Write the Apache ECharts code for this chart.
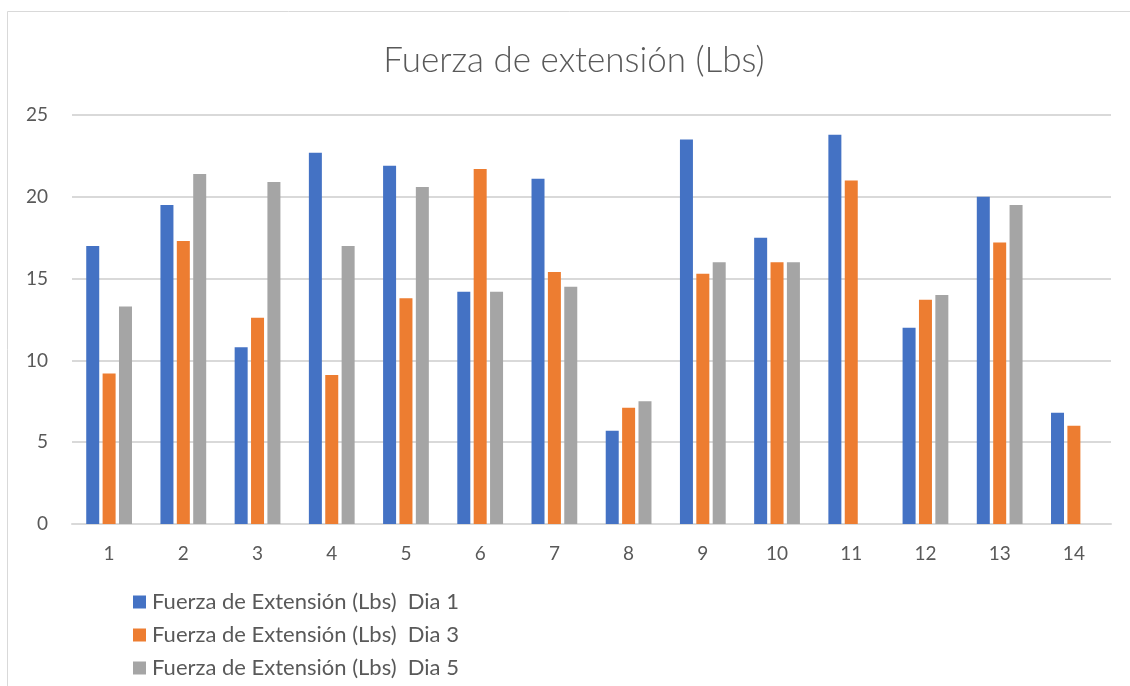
<!DOCTYPE html>
<html>
<head>
<meta charset="utf-8">
<script src="https://cdn.jsdelivr.net/npm/echarts@6/dist/echarts.min.js"></script>
<style>
  html, body { margin: 0; padding: 0; background: #ffffff; }
  #chart { width: 1130px; height: 686px; }
</style>
</head>
<body>
<div id="chart"></div>
<script>
// Sample numbers (1..14) along the x axis
const categories = ['1', '2', '3', '4', '5', '6', '7', '8', '9', '10', '11', '12', '13', '14'];

// Extension force readings (Lbs) per day
const dia1 = [17.0, 19.5, 10.8, 22.7, 21.9, 14.2, 21.1, 5.7, 23.5, 17.5, 23.8, 12.0, 20.0, 6.8];
const dia3 = [9.2, 17.3, 12.6, 9.1, 13.8, 21.7, 15.4, 7.1, 15.3, 16.0, 21.0, 13.7, 17.2, 6.0];
const dia5 = [13.3, 21.4, 20.9, 17.0, 20.6, 14.2, 14.5, 7.5, 16.0, 16.0, null, 14.0, 19.5, null];

const seriesNames = [
  'Fuerza de Extensión (Lbs)  Dia 1',
  'Fuerza de Extensión (Lbs)  Dia 3',
  'Fuerza de Extensión (Lbs)  Dia 5'
];
const yTicks = { min: 0, max: 25, interval: 5 };

const FONT = 'Lato, "Open Sans", sans-serif';
const TEXT = '#595959';
const GRID_LINE = '#d9d9d9';

const chart = echarts.init(document.getElementById('chart'), null, { renderer: 'canvas' });

function barSeries(name, data, color) {
  return {
    name: name,
    type: 'bar',
    data: data,
    barWidth: 13,
    barGap: '26%',
    itemStyle: { color: color },
    emphasis: { disabled: true }
  };
}

chart.setOption({
  animation: false,
  backgroundColor: '#ffffff',
  color: ['#4472C4', '#ED7D31', '#A5A5A5'],
  graphic: [{
    type: 'rect',
    shape: { x: 7.5, y: 11.5, width: 1200, height: 800 },
    style: { fill: 'none', stroke: GRID_LINE, lineWidth: 1 },
    silent: true,
    z: -10
  }],
  title: {
    text: 'Fuerza de extensión (Lbs)',
    left: 569,
    textAlign: 'center',
    top: 38,
    textStyle: { fontFamily: FONT, fontSize: 35, fontWeight: 300, color: TEXT }
  },
  legend: {
    orient: 'vertical',
    left: 128,
    top: 586,
    itemWidth: 13,
    itemHeight: 13,
    itemGap: 11,
    icon: 'rect',
    data: seriesNames,
    textStyle: { fontFamily: FONT, fontSize: 22, color: TEXT, padding: [0, 0, 0, 1] }
  },
  grid: { left: 72, right: 19, top: 115, bottom: 162, containLabel: false },
  xAxis: {
    type: 'category',
    data: categories,
    axisLine: { show: true, lineStyle: { color: GRID_LINE, width: 2 } },
    axisTick: { show: false },
    axisLabel: { fontFamily: FONT, fontSize: 19, color: TEXT, margin: 20 }
  },
  yAxis: {
    type: 'value',
    min: yTicks.min,
    max: yTicks.max,
    interval: yTicks.interval,
    axisLine: { show: false },
    axisTick: { show: false },
    splitLine: { lineStyle: { color: GRID_LINE, width: 2 } },
    axisLabel: { fontFamily: FONT, fontSize: 19, color: TEXT, margin: 24 }
  },
  series: [
    barSeries(seriesNames[0], dia1, '#4472C4'),
    barSeries(seriesNames[1], dia3, '#ED7D31'),
    barSeries(seriesNames[2], dia5, '#A5A5A5')
  ]
});
</script>
</body>
</html>
